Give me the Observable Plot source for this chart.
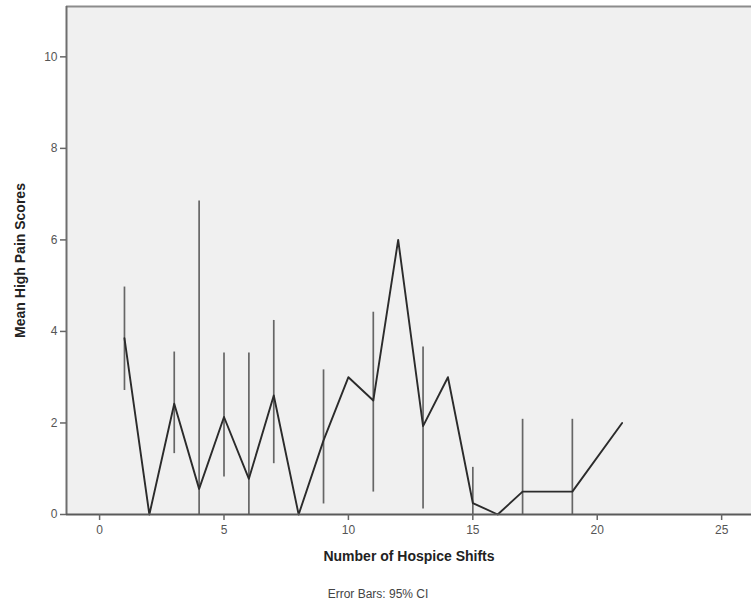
<!DOCTYPE html>
<html>
<head>
<meta charset="utf-8">
<script src="https://cdn.jsdelivr.net/npm/d3@7"></script>
<script src="https://cdn.jsdelivr.net/npm/@observablehq/plot@0.6"></script>
<style>
  html, body { margin: 0; padding: 0; background: #fff; }
  svg { display: block; }
</style>
</head>
<body>
<div id="chart"></div>
<script>
// Mean line data
const shifts = [1, 2, 3, 4, 5, 6, 7, 8, 9, 10, 11, 12, 13, 14, 15, 16, 17, 19, 21];
const means  = [3.85, 0, 2.42, 0.56, 2.13, 0.78, 2.6, 0, 1.62, 3, 2.49, 6, 1.93, 3, 0.25, 0, 0.5, 0.5, 2];

// Error bars (95% CI)
const ciShifts = [1, 3, 4, 5, 6, 7, 9, 11, 13, 15, 17, 19];
const ciLow    = [2.71, 1.33, -5.73, 0.82, -1.97, 1.11, 0.23, 0.49, 0.12, -0.53, -1.08, -1.08];
const ciHigh   = [4.97, 3.55, 6.85, 3.53, 3.53, 4.24, 3.16, 4.42, 3.66, 1.03, 2.08, 2.08];

// Axes
const xTicks = [0, 5, 10, 15, 20, 25];
const yTicks = [0, 2, 4, 6, 8, 10];
const xDomain = [-1.33, 26.2];
const yDomain = [0, 11.1];

const xTitle = "Number of Hospice Shifts";
const yTitle = "Mean High Pain Scores";
const caption = "Error Bars: 95% CI";

const lineData = shifts.map((s, i) => ({x: s, y: means[i]}));
const ciData = ciShifts.map((s, i) => ({x: s, lo: ciLow[i], hi: ciHigh[i]}));

const font = "'Liberation Sans', Arial, sans-serif";

const chart = Plot.plot({
  width: 751,
  height: 609,
  marginLeft: 66,
  marginTop: 6,
  marginRight: 0,
  marginBottom: 95,
  style: {fontFamily: font, background: "#fff"},
  x: {domain: xDomain},
  y: {domain: yDomain},
  marks: [
    Plot.frame({fill: "#f0f0f0", stroke: "none"}),
    Plot.ruleX(ciData, {x: "x", y1: "lo", y2: "hi", stroke: "#666", strokeWidth: 1.7, clip: true}),
    Plot.line(lineData, {x: "x", y: "y", stroke: "#2b2b2b", strokeWidth: 1.9}),
    Plot.ruleY([yDomain[1]], {stroke: "#8c8c8c", strokeWidth: 2}),
    Plot.ruleX([xDomain[0]], {stroke: "#6e6e6e", strokeWidth: 2}),
    Plot.ruleY([yDomain[0]], {stroke: "#5a5a5a", strokeWidth: 2}),
    Plot.axisY({
      ticks: yTicks, tickSize: 6, tickPadding: 3, stroke: "#666", strokeWidth: 1.5,
      fontSize: 12, color: "#555", label: null
    }),
    Plot.axisX({
      ticks: xTicks, tickSize: 6, tickPadding: 5, stroke: "#666", strokeWidth: 1.5,
      fontSize: 12, color: "#555", label: null
    }),
    Plot.text([yTitle], {
      frameAnchor: "left", dx: -46, rotate: -90, fontSize: 14, fontWeight: "bold",
      fill: "#222", textAnchor: "middle"
    }),
    Plot.text([xTitle], {
      frameAnchor: "bottom", dy: 46, fontSize: 14, fontWeight: "bold", fill: "#222"
    }),
    Plot.text([caption], {
      frameAnchor: "bottom", dy: 83, dx: -31, fontSize: 12, fill: "#444"
    })
  ]
});

document.getElementById("chart").appendChild(chart);
</script>
</body>
</html>
